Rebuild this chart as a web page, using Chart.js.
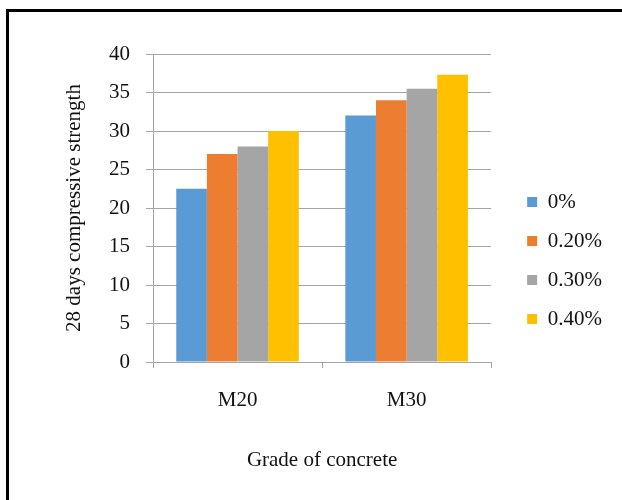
<!DOCTYPE html>
<html>
<head>
<meta charset="utf-8">
<script src="https://cdn.jsdelivr.net/npm/chart.js@4.4.1/dist/chart.umd.min.js"></script>
<style>
  html, body { margin: 0; padding: 0; background: #fff; }
  #wrap { position: relative; width: 622px; height: 500px; overflow: hidden; }
  #frame { position: absolute; left: 6px; top: 9px; width: 700px; height: 600px; border: 3px solid #000; box-sizing: border-box; }
  #chart { position: absolute; left: 0; top: 0; }
</style>
</head>
<body>
<div id="wrap">
  <div id="frame"></div>
  <canvas id="chart" width="622" height="500"></canvas>
</div>
<script>
const grades = ["M20", "M30"];
const fibreLabels = ["0%", "0.20%", "0.30%", "0.40%"];
const pct0 = [22.5, 32];
const pct20 = [27, 34];
const pct30 = [28, 35.5];
const pct40 = [30, 37.3];
const yTicks = [0, 5, 10, 15, 20, 25, 30, 35, 40];

const colors = ["#5B9BD5", "#ED7D31", "#A5A5A5", "#FFC000"];
const seriesValues = [pct0, pct20, pct30, pct40];
const serif = "'Liberation Serif', 'Times New Roman', serif";
const gridGray = "#a6a6a6";
const textColor = "#111";

const ctx = document.getElementById("chart").getContext("2d");

new Chart(ctx, {
  type: "bar",
  data: {
    labels: grades,
    datasets: fibreLabels.map(function (lbl, i) {
      return {
        label: lbl,
        data: seriesValues[i],
        backgroundColor: colors[i],
        borderWidth: 0,
        barPercentage: 1,
        categoryPercentage: 0.725,
      };
    }),
  },
  options: {
    responsive: false,
    animation: false,
    layout: {
      padding: { top: 21, left: 0, right: 11, bottom: 0 },
    },
    plugins: {
      // empty top block, only used to push the plot area down
      title: {
        display: true,
        text: " ",
        fullSize: false,
        padding: 0,
        font: { size: 33, lineHeight: 1 },
      },
      tooltip: { enabled: false },
      legend: {
        position: "right",
        labels: {
          boxWidth: 10,
          boxHeight: 10,
          padding: 18,
          color: textColor,
          font: { family: serif, size: 21 },
        },
      },
    },
    scales: {
      x: {
        grid: {
          display: true,
          drawOnChartArea: false,
          drawTicks: true,
          tickLength: 6,
          color: gridGray,
        },
        border: { display: true, color: gridGray },
        ticks: {
          padding: 20,
          color: textColor,
          font: { family: serif, size: 21 },
        },
        title: {
          display: true,
          text: "Grade of concrete",
          color: textColor,
          font: { family: serif, size: 21 },
          padding: { top: 0, bottom: 27 },
        },
        afterFit: function (scale) {
          scale.height = 138;
        },
      },
      y: {
        min: 0,
        max: 40,
        afterBuildTicks: function (scale) {
          scale.ticks = yTicks.map(function (v) { return { value: v }; });
        },
        grid: {
          color: gridGray,
          tickLength: 7,
        },
        border: { display: true, color: gridGray },
        ticks: {
          padding: 16,
          color: textColor,
          font: { family: serif, size: 21 },
        },
        title: {
          display: true,
          text: "28 days compressive strength",
          color: textColor,
          font: { family: serif, size: 21 },
          padding: { top: 62, bottom: 0 },
        },
        afterFit: function (scale) {
          scale.width = 153;
        },
      },
      // spacer between the plot and the legend
      gap: {
        type: "linear",
        position: "right",
        display: true,
        grid: { display: false, drawTicks: false },
        ticks: { display: false },
        border: { display: false },
        afterFit: function (scale) {
          scale.width = 18;
        },
      },
    },
  },
});
</script>
</body>
</html>
